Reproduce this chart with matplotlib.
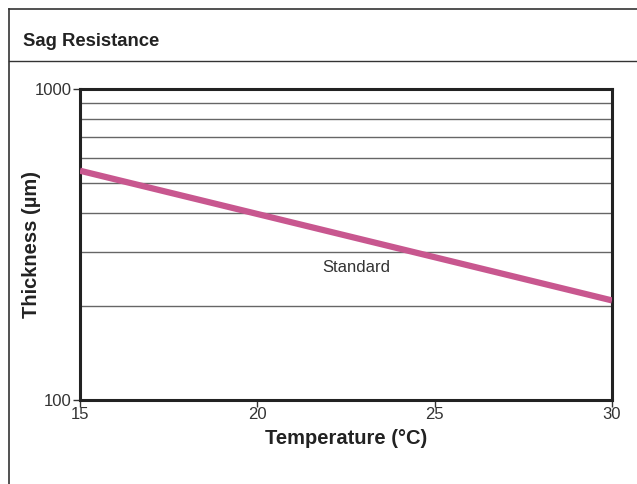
import numpy as np
import matplotlib
matplotlib.use("Agg")
from matplotlib import pyplot as plt
from matplotlib.lines import Line2D

plt.rcParams['font.family'] = ['Liberation Sans', 'DejaVu Sans']

# data
temperature = [15, 30]
thickness = [546, 209]
x_ticks = [15, 20, 25, 30]
y_ticks = [100, 1000]
grid_vals = [200, 300, 400, 500, 600, 700, 800, 900]

W, H = 637, 484
fig = plt.figure(figsize=(W / 100, H / 100), dpi=100)

# outer frame and title separator
frame_col = '#333333'
fig.add_artist(Line2D([8.5 / W, 8.5 / W], [0, 1 - 9 / H], transform=fig.transFigure, color=frame_col, lw=1.2))
fig.add_artist(Line2D([8.5 / W, 1], [1 - 9 / H, 1 - 9 / H], transform=fig.transFigure, color=frame_col, lw=1.2))
fig.add_artist(Line2D([8.5 / W, 1], [1 - 61 / H, 1 - 61 / H], transform=fig.transFigure, color=frame_col, lw=1.0))
fig.text(23 / W, 1 - 41 / H, 'Sag Resistance', fontsize=13.3, fontweight='bold', color='#222222', va='center')

ax = fig.add_axes([80 / W, 1 - 400 / H, (612 - 80) / W, (400 - 89) / H])
ax.set_yscale('log')
ax.set_xlim(15, 30)
ax.set_ylim(100, 1000)

for g in grid_vals:
    ax.axhline(g, color='#666666', lw=1.0, zorder=1)

ax.plot(temperature, thickness, color='#c8578f', lw=4.5, solid_capstyle='butt', zorder=3)
ax.text(22.8, 267, 'Standard', fontsize=12, color='#333333', ha='center', va='center')

ax.set_xticks(x_ticks)
ax.set_xticklabels([str(t) for t in x_ticks])
ax.set_yticks(y_ticks)
ax.set_yticklabels([str(t) for t in y_ticks])
ax.yaxis.set_minor_locator(matplotlib.ticker.NullLocator())
ax.tick_params(axis='both', labelsize=12, length=5, width=1, color='#333333', labelcolor='#333333', pad=1)
ax.tick_params(axis='x', pad=0)

for s in ax.spines.values():
    s.set_linewidth(2.2)
    s.set_color('#222222')

ax.set_xlabel('Temperature (°C)', fontsize=14.5, fontweight='bold', color='#222222', va='center')
ax.xaxis.set_label_coords(0.5, -(438 - 400) / 311)
ax.set_ylabel('Thickness (µm)', fontsize=14.5, fontweight='bold', color='#222222', va='center')
ax.yaxis.set_label_coords(-(80 - 32) / 532, 0.5)

fig.savefig('out.png', dpi=100)
